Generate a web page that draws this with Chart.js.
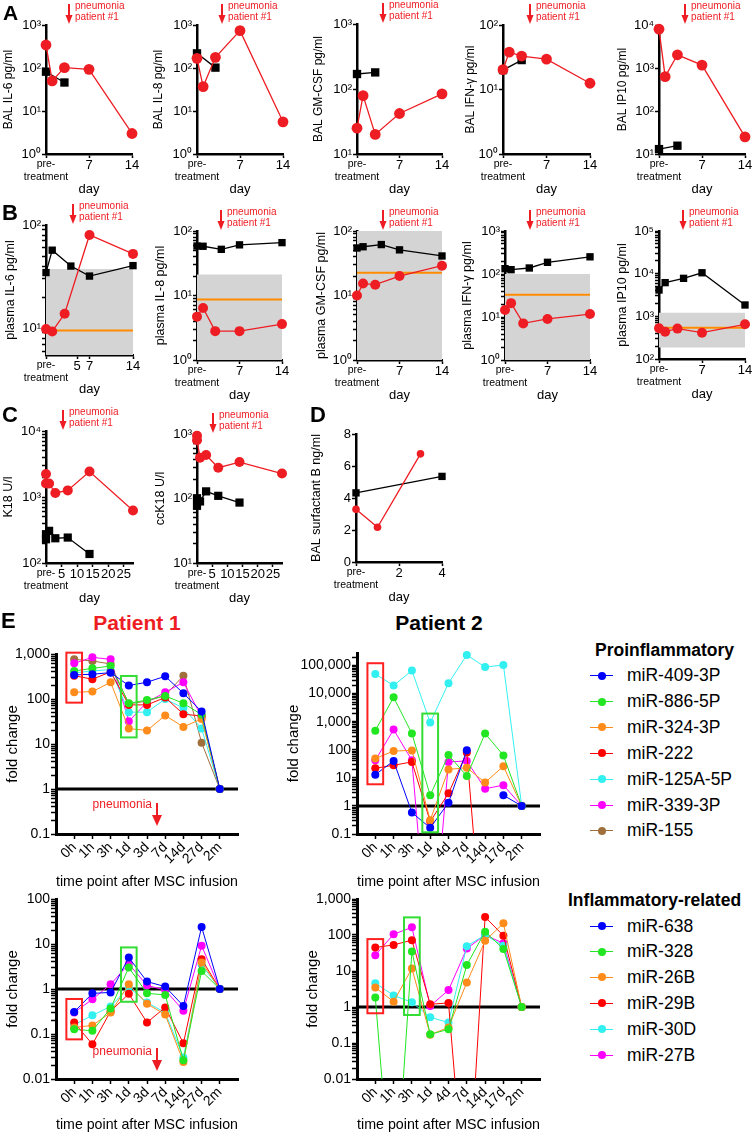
<!DOCTYPE html>
<html>
<head>
<meta charset="utf-8">
<script src="https://cdn.jsdelivr.net/npm/chart.js@4.4.1/dist/chart.umd.min.js"></script>
<style>
  body { margin: 0; width: 753px; height: 1136px; position: relative; overflow: hidden; background: #fff;
         font-family: "Liberation Sans", Arial, Helvetica, sans-serif; }
  canvas { position: absolute; }
  .lbl { position: absolute; line-height: 1; white-space: nowrap; color: #000; }
  .mk { position: absolute; }
</style>
</head>
<body>
<script>
// ---------- A: BAL cytokines (red = patient #1, black = patient #2) ----------
const balDaysRed = [0, 1, 3, 7, 14];
const balDaysBlack = [0, 3];
const balIL6Red = [343, 50, 102, 93, 3.0];
const balIL6Black = [82, 46];
const balIL8Red = [168, 37, 177, 738, 5.6];
const balIL8Black = [219, 102];
const balGMCSFRed = [25, 79, 20, 42, 84];
const balGMCSFBlack = [170, 180];
const balIFNgRed = [20.3, 38, 33, 29.6, 12.5];
const balIFNgBlack = [20, 28.6];
const balIP10Red = [8000, 630, 2030, 1170, 25];
const balIP10Black = [13, 15.6];

// ---------- B: plasma cytokines ----------
const plasmaDaysRed = [0, 1, 3, 7, 14];
const plasmaDaysBlack = [0, 1, 4, 7, 14];
const plasmaIL6Red = [9.8, 9.3, 13.8, 80, 52.5];
const plasmaIL6Black = [34.6, 57, 40, 32, 40.4];
const plasmaIL8Red = [4.7, 6.4, 2.8, 2.8, 3.6];
const plasmaIL8Black = [58.5, 58, 52, 61, 66];
const plasmaGMCSFRed = [10, 15.3, 14.7, 20, 29];
const plasmaGMCSFBlack = [54.5, 57, 61.6, 51, 41];
const plasmaIFNgRed = [14.6, 21, 7.1, 9, 11.7];
const plasmaIFNgBlack = [133, 126, 138, 187, 251];
const plasmaIP10Red = [525, 437, 516, 414, 650];
const plasmaIP10Black = [4140, 6160, 7770, 10500, 1845];
// healthy range (grey) and median (orange): IL-6, IL-8, GM-CSF, IFN-g, IP10
const normalHigh = [37.5, 21.2, 100, 100, 1220];
const normalLow = [null, null, null, null, 185];
const normalMedian = [9.5, 8.7, 22.5, 33, 542];

// ---------- C: K18 / ccK18, D: surfactant B ----------
const k18DaysRed = [0, 0, 1, 3, 7, 14, 28];
const k18DaysBlack = [0, 0, 1, 3, 7, 14];
const k18Red = [2230, 1600, 1600, 1150, 1260, 2430, 623];
const k18Black = [229, 273, 307, 237, 243, 137];
const ccK18Red = [940, 800, 430, 473, 300, 367, 244];
const ccK18Black = [101, 77, 90, 129, 110, 86.5];
const spbDaysRed = [0, 1, 3];
const spbRed = [3.29, 2.17, 6.76];
const spbDaysBlack = [0, 4];
const spbBlack = [4.32, 5.35];

// ---------- E: miRNA fold change ----------
const timeP1 = ['0h', '1h', '3h', '1d', '3d', '7d', '14d', '27d', '2m'];
const timeP2 = ['0h', '1h', '3h', '1d', '4d', '7d', '14d', '17d', '2m'];
const proNames = ['miR-409-3P', 'miR-886-5P', 'miR-324-3P', 'miR-222', 'miR-125A-5P', 'miR-339-3P', 'miR-155'];
const relNames = ['miR-638', 'miR-328', 'miR-26B', 'miR-29B', 'miR-30D', 'miR-27B'];

const p1_409 = [342, 355, 385, 199, 236, 320, 134, 53, 1];
const p1_886 = [420, 480, 540, 80, 95, 117, 80, 45, 1];
const p1_324 = [141, 146, 235, 22, 20, 43, 24, 36, 1];
const p1_222 = [330, 275, 400, 74, 74, 108, 46, 42, 1];
const p1_125a = [380, 420, 450, 51, 51, 100, 63, 22, 1];
const p1_339 = [620, 843, 760, 32, 85, 141, 236, 40, 1];
const p1_155 = [760, 700, 600, 78, 90, 120, 330, 10.7, 1];

const p2_409 = [13, 40, 0.58, 0.166, 1.3, 97, null, 2.4, 1];
const p2_886 = [480, 7400, 380, 2.4, 65, 11.6, 380, 63, 1];
const p2_324 = [49, 90, 95, 0.31, 20, 23, 6.8, 26, 1];
const p2_222 = [22, 28, 37, 0.28, 2.8, 80, 1e-6, null, 1];
const p2_125a = [50000, 19500, 66000, 930, 23600, 240000, 88000, 105000, 1];
const p2_339 = [42, 525, 42, 1e-6, 37, 40, 4.1, 5.5, 1];
const p2_155 = [null, null, null, null, null, null, null, null, null];

const p1_638 = [0.31, 0.80, 0.84, 5.0, 1.46, 1.13, 0.42, 24, 1];
const p1_328 = [0.127, 0.118, 0.37, 3.0, 0.80, 0.74, 0.026, 2.5, 1];
const p1_26b = [0.14, 0.155, 0.30, 1.27, 0.47, 0.27, 0.024, 3.9, 1];
const p1_29b = [0.18, 0.059, 0.32, 0.78, 0.18, 0.39, 0.062, 4.6, 1];
const p1_30d = [0.16, 0.26, 0.41, 1.1, 0.5, 0.3, 0.03, 3.5, 1];
const p1_27b = [0.30, 0.59, 1.27, 3.6, 1.2, 0.95, 0.33, 9.2, 1];

const p2_638 = [null, null, null, null, null, null, null, null, null];
const p2_328 = [1.85, 1e-6, 35, 0.174, 0.24, 14.7, 124, 41, 1];
const p2_26b = [3.5, 1.4, 11.8, 0.17, 0.27, 4.8, 69, 211, 1];
const p2_29b = [45, 53, 72, 1.19, 1.3, 1e-6, 316, 96, 1];
const p2_30d = [4.6, 2.1, 1.35, 0.52, 0.37, 49, 100, 50, 1];
const p2_27b = [27.6, 105, 163, 1.07, 2.95, 42, 100, 59, 1];

// ---------- tick values ----------
const ticks1to1e3 = [1, 10, 100, 1000];
const ticks10to1e3 = [10, 100, 1000];
const ticks1to1e2 = [1, 10, 100];
const ticks10to1e4 = [10, 100, 1000, 10000];
const ticks10to1e2 = [10, 100];
const ticks1e2to1e5 = [100, 1000, 10000, 100000];
const ticks1e2to1e4 = [100, 1000, 10000];
const ticksSPB = [0, 2, 4, 6, 8];
const dayTicks = [0, 7, 14];
const dayTicksIL6 = [0, 5, 7, 14];
const dayTicksK18 = [0, 5, 10, 15, 20, 25];
const dayTicksSPB = [0, 2, 4];
const yTicksE1 = [0.1, 1, 10, 100, 1000];
const yTicksE2 = [0.1, 1, 10, 100, 1000, 10000, 100000];
const yTicksE3 = [0.01, 0.1, 1, 10, 100];
const yTicksE4 = [0.01, 0.1, 1, 10, 100, 1000];

// ---------- styling ----------
const RED = '#ee1d23';
const ORANGE = '#ff8c00';
const GRAY = '#d4d4d4';
const FONT = '"Liberation Sans", Arial, Helvetica, sans-serif';
const proColors = ['#0000ff', '#22e622', '#ff8c1a', '#ff0000', '#33f0f0', '#ff00ff', '#a0703c'];
const relColors = ['#0000ff', '#22e622', '#ff8c1a', '#ff0000', '#33f0f0', '#ff00ff'];

Chart.defaults.font.family = FONT;
Chart.defaults.color = '#000';

const SUP = { '0': '⁰', '1': '¹', '2': '²', '3': '³', '4': '⁴', '5': '⁵', '6': '⁶', '7': '⁷', '8': '⁸', '9': '⁹', '-': '⁻' };
const pow10 = v => '10' + String(Math.round(Math.log10(v))).split('').map(c => SUP[c]).join('');
const xy = (xs, ys) => xs.map((x, i) => ({ x: x, y: ys[i] }));

function logTickValues(min, max, majors, minor) {
  const out = majors.filter(v => v >= min && v <= max);
  if (minor) {
    const lo = Math.floor(Math.log10(min)), hi = Math.ceil(Math.log10(max));
    for (let e = lo; e <= hi; e++) {
      for (let k = 2; k <= 9; k++) {
        const v = k * Math.pow(10, e);
        if (v >= min && v <= max) out.push(v);
      }
    }
  }
  return out.sort((a, b) => a - b);
}

function axisStyle(len, bw) {
  return {
    border: { display: true, color: '#000', width: bw },
    grid: { display: true, drawOnChartArea: false, drawTicks: true, tickLength: len, tickWidth: 1.5, tickColor: '#000' }
  };
}

// pneumonia arrow
const arrowPlugin = {
  id: 'pneumo',
  afterDraw(chart, args, o) {
    if (o.day === undefined) return;
    const ctx = chart.ctx, area = chart.chartArea;
    const x = Math.round(chart.scales.x.getPixelForValue(o.day));
    ctx.save();
    ctx.fillStyle = RED;
    ctx.strokeStyle = RED;
    ctx.lineWidth = 2;
    ctx.textBaseline = 'middle';
    if (o.below) {
      const b = area.bottom;
      ctx.beginPath(); ctx.moveTo(x, b - 31); ctx.lineTo(x, b - 18); ctx.stroke();
      ctx.beginPath(); ctx.moveTo(x - 5, b - 19); ctx.lineTo(x + 5, b - 19); ctx.lineTo(x, b - 8); ctx.closePath(); ctx.fill();
      ctx.font = '12px ' + FONT;
      ctx.textAlign = 'right';
      ctx.fillText('pneumonia', x - 5, b - o.textDy);
    } else {
      const t = area.top;
      ctx.beginPath(); ctx.moveTo(x, t - 21); ctx.lineTo(x, t - 9); ctx.stroke();
      ctx.beginPath(); ctx.moveTo(x - 3.5, t - 10); ctx.lineTo(x + 3.5, t - 10); ctx.lineTo(x, t - 1); ctx.closePath(); ctx.fill();
      ctx.font = '10px ' + FONT;
      ctx.textAlign = 'left';
      ctx.fillText('pneumonia', x + 6, t - 19);
      ctx.fillText('patient #1', x + 6, t - 8);
    }
    ctx.restore();
  }
};

// highlight rectangles in panel E
const boxPlugin = {
  id: 'boxes',
  afterDatasetsDraw(chart, args, o) {
    if (!o.list) return;
    const ctx = chart.ctx, sx = chart.scales.x, sy = chart.scales.y;
    ctx.save();
    ctx.lineWidth = 2;
    o.list.forEach(b => {
      ctx.strokeStyle = b.color;
      const x0 = sx.getPixelForValue(b.x - 0.43), x1 = sx.getPixelForValue(b.x + 0.43);
      const y0 = sy.getPixelForValue(b.top), y1 = sy.getPixelForValue(b.bottom);
      ctx.strokeRect(x0, y0, x1 - x0, y1 - y0);
    });
    ctx.restore();
  }
};
Chart.register(arrowPlugin, boxPlugin);

function makeChart(box, cfg) {
  const c = document.createElement('canvas');
  const w = box.R - box.L + box.yw + box.pr;
  const h = box.B - box.T + box.pt + box.xh;
  c.width = w;
  c.height = h;
  c.style.left = (box.L - box.yw) + 'px';
  c.style.top = (box.T - box.pt) + 'px';
  c.style.width = w + 'px';
  c.style.height = h + 'px';
  document.body.appendChild(c);
  const o = cfg.options;
  o.layout = { padding: { top: box.pt, right: box.pr, left: 0, bottom: 0 } };
  o.scales.x.afterFit = s => { s.height = box.xh; };
  o.scales.y.afterFit = s => { s.width = box.yw; };
  o.responsive = false;
  o.animation = false;
  o.devicePixelRatio = 1;
  o.plugins = Object.assign({ legend: { display: false }, tooltip: { enabled: false } }, o.plugins || {});
  return new Chart(c, cfg);
}

// A-D panels
function cytoPanel(box, p) {
  const sets = [
    { data: xy(p.redX, p.red), borderColor: RED, backgroundColor: RED, borderWidth: 1.3,
      pointRadius: p.r, pointBorderWidth: 0, clip: false },
    { data: xy(p.blackX, p.black), borderColor: '#000', backgroundColor: '#000', borderWidth: 1.3,
      pointStyle: 'rect', pointRadius: p.s, pointBorderWidth: 0, clip: false }
  ];
  if (p.median !== undefined) {
    sets.push({ data: xy([0, p.xmax], [p.median, p.median]), borderColor: ORANGE, borderWidth: 2, pointRadius: 0, clip: false });
  }
  if (p.high !== undefined) {
    sets.push({ data: xy([0, p.xmax], [p.high, p.high]), borderColor: 'rgba(0,0,0,0)', backgroundColor: GRAY,
      pointRadius: 0, fill: p.low ? '+1' : 'start' });
    if (p.low) sets.push({ data: xy([0, p.xmax], [p.low, p.low]), borderColor: 'rgba(0,0,0,0)', pointRadius: 0, fill: false });
  }
  const majors = new Set(p.yTicks);
  const ymin = p.ymin !== undefined ? p.ymin : p.yTicks[0];
  const ymax = p.yTicks[p.yTicks.length - 1];
  return makeChart(box, {
    type: 'line',
    data: { datasets: sets },
    options: {
      scales: {
        x: Object.assign({
          type: 'linear', min: 0, max: p.xmax,
          afterBuildTicks: s => { s.ticks = p.xTicks.map(v => ({ value: v })); },
          ticks: {
            autoSkip: false, maxRotation: 0, minRotation: 0, padding: 0,
            callback: v => v === 0 ? ['pre-', 'treatment'] : String(v),
            font: ctx => ({ size: ctx.tick && ctx.tick.value === 0 ? 10.5 : 13 })
          },
          title: { display: true, text: 'day', font: { size: 13 }, padding: 0 }
        }, axisStyle(4, 2.5)),
        y: Object.assign({
          type: p.linear ? 'linear' : 'logarithmic', min: ymin, max: ymax,
          afterBuildTicks: s => {
            const vals = p.linear ? p.yTicks : logTickValues(ymin, ymax, p.yTicks, p.minor);
            s.ticks = vals.map(v => ({ value: v }));
          },
          ticks: {
            autoSkip: false, padding: 1, font: { size: 13 },
            callback: v => majors.has(v) ? (p.linear ? String(v) : pow10(v)) : ''
          },
          title: { display: true, text: p.title, font: { size: p.ts }, padding: 0 }
        }, axisStyle(4, 2.5))
      },
      plugins: { pneumo: p.arrow !== undefined ? { day: p.arrow } : {} }
    }
  });
}

// E panels
function mirPanel(box, p) {
  const sets = p.series.map((vals, i) => ({
    data: vals.map((v, j) => ({ x: j + 1, y: v })),
    borderColor: p.colors[i], backgroundColor: p.colors[i], borderWidth: 1,
    pointRadius: 4, pointBorderWidth: 0, clip: { left: 6, right: 6, top: 6, bottom: 0 }
  }));
  sets.push({ data: xy([0, 10], [1, 1]), borderColor: '#000', borderWidth: 3, pointRadius: 0, clip: false });
  const majors = new Set(p.yTicks);
  return makeChart(box, {
    type: 'line',
    data: { datasets: sets },
    options: {
      scales: {
        x: Object.assign({
          type: 'linear', min: 0, max: 10,
          afterBuildTicks: s => { s.ticks = p.labels.map((l, i) => ({ value: i + 1 })); },
          ticks: { autoSkip: false, minRotation: 45, maxRotation: 45, padding: 0, font: { size: 14 },
            callback: v => p.labels[v - 1] },
          title: { display: true, text: 'time point after MSC infusion', font: { size: 14.5 }, padding: 0 }
        }, axisStyle(5, 3)),
        y: Object.assign({
          type: 'logarithmic', min: p.ymin, max: p.ymax,
          afterBuildTicks: s => { s.ticks = logTickValues(p.ymin, p.ymax, p.yTicks, true).map(v => ({ value: v })); },
          ticks: { autoSkip: false, padding: 1, font: { size: 14 },
            callback: v => majors.has(v) ? v.toLocaleString('en-US') : '' },
          title: { display: true, text: 'fold change', font: { size: 15 }, padding: 0 }
        }, axisStyle(5, 3))
      },
      plugins: {
        pneumo: p.arrow ? { day: 5.55, below: true, textDy: p.arrow } : {},
        boxes: { list: p.boxes }
      }
    }
  });
}

// ---------- row A ----------
const rowA = { T: 25, B: 154, pt: 28, pr: 10, xh: 43 };
cytoPanel(Object.assign({}, rowA, { L: 46, R: 132, yw: 45 }), { title: 'BAL IL-6 pg/ml', ts: 12,
  redX: balDaysRed, red: balIL6Red, blackX: balDaysBlack, black: balIL6Black, r: 5.4, s: 5.9,
  yTicks: ticks1to1e3, xmax: 14, xTicks: dayTicks, arrow: 3.8 });
cytoPanel(Object.assign({}, rowA, { L: 197, R: 283, yw: 46 }), { title: 'BAL IL-8 pg/ml', ts: 12,
  redX: balDaysRed, red: balIL8Red, blackX: balDaysBlack, black: balIL8Black, r: 5.4, s: 5.9,
  yTicks: ticks1to1e3, xmax: 14, xTicks: dayTicks, arrow: 4.0 });
cytoPanel(Object.assign({}, rowA, { L: 357, R: 442, T: 24, yw: 46 }), { title: 'BAL GM-CSF pg/ml', ts: 12,
  redX: balDaysRed, red: balGMCSFRed, blackX: balDaysBlack, black: balGMCSFBlack, r: 5.4, s: 5.9,
  yTicks: ticks10to1e3, xmax: 14, xTicks: dayTicks, arrow: 4.3 });
cytoPanel(Object.assign({}, rowA, { L: 503, R: 590, yw: 40 }), { title: 'BAL IFN-γ pg/ml', ts: 12,
  redX: balDaysRed, red: balIFNgRed, blackX: balDaysBlack, black: balIFNgBlack, r: 5.4, s: 5.9,
  yTicks: ticks1to1e2, xmax: 14, xTicks: dayTicks, arrow: 4.35 });
cytoPanel(Object.assign({}, rowA, { L: 659, R: 745, yw: 44, pr: 8 }), { title: 'BAL IP10 pg/ml', ts: 12,
  redX: balDaysRed, red: balIP10Red, blackX: balDaysBlack, black: balIP10Black, r: 5.4, s: 5.9,
  yTicks: ticks10to1e4, xmax: 14, xTicks: dayTicks, arrow: 4.3 });

// ---------- row B ----------
const rowB = { T: 231, B: 360, pt: 28, pr: 10, xh: 43 };
cytoPanel(Object.assign({}, rowB, { L: 46, R: 133, T: 225, B: 355, yw: 43, xh: 42 }), { title: 'plasma IL-6 pg/ml', ts: 12.5,
  redX: plasmaDaysRed, red: plasmaIL6Red, blackX: plasmaDaysBlack, black: plasmaIL6Black, r: 5, s: 5.2,
  yTicks: ticks10to1e2, ymin: 5.5, minor: true, xmax: 14, xTicks: dayTicksIL6, arrow: 4.3,
  high: normalHigh[0], median: normalMedian[0] });
cytoPanel(Object.assign({}, rowB, { L: 197, R: 282, yw: 44 }), { title: 'plasma IL-8 pg/ml', ts: 12.5,
  redX: plasmaDaysRed, red: plasmaIL8Red, blackX: plasmaDaysBlack, black: plasmaIL8Black, r: 5, s: 5.2,
  yTicks: ticks1to1e2, minor: true, xmax: 14, xTicks: dayTicks, arrow: 3.9,
  high: normalHigh[1], median: normalMedian[1] });
cytoPanel(Object.assign({}, rowB, { L: 357, R: 442, yw: 43 }), { title: 'plasma GM-CSF pg/ml', ts: 12.5,
  redX: plasmaDaysRed, red: plasmaGMCSFRed, blackX: plasmaDaysBlack, black: plasmaGMCSFBlack, r: 5, s: 5.2,
  yTicks: ticks1to1e2, minor: true, xmax: 14, xTicks: dayTicks, arrow: 4.3,
  high: normalHigh[2], median: normalMedian[2] });
cytoPanel(Object.assign({}, rowB, { L: 505, R: 590, yw: 45 }), { title: 'plasma IFN-γ pg/ml', ts: 12.5,
  redX: plasmaDaysRed, red: plasmaIFNgRed, blackX: plasmaDaysBlack, black: plasmaIFNgBlack, r: 5, s: 5.2,
  yTicks: ticks1to1e3, minor: true, xmax: 14, xTicks: dayTicks, arrow: 4.1,
  high: normalHigh[3], median: normalMedian[3] });
cytoPanel(Object.assign({}, rowB, { L: 659, R: 745, B: 359, yw: 44, pr: 8 }), { title: 'plasma IP10 pg/ml', ts: 12.5,
  redX: plasmaDaysRed, red: plasmaIP10Red, blackX: plasmaDaysBlack, black: plasmaIP10Black, r: 5, s: 5.2,
  yTicks: ticks1e2to1e5, minor: true, xmax: 14, xTicks: dayTicks, arrow: 3.9,
  high: normalHigh[4], low: normalLow[4], median: normalMedian[4] });

// ---------- rows C / D ----------
const rowC = { T: 434, B: 563, pt: 28, pr: 10, xh: 43 };
cytoPanel(Object.assign({}, rowC, { L: 46, R: 133, T: 431, yw: 45 }), { title: 'K18 U/l', ts: 12.5,
  redX: k18DaysRed, red: k18Red, blackX: k18DaysBlack, black: k18Black, r: 5, s: 5.8,
  yTicks: ticks1e2to1e4, minor: true, xmax: 28, xTicks: dayTicksK18, arrow: 5.4 });
cytoPanel(Object.assign({}, rowC, { L: 197, R: 282, yw: 44 }), { title: 'ccK18 U/l', ts: 12.5,
  redX: k18DaysRed, red: ccK18Red, blackX: k18DaysBlack, black: ccK18Black, r: 5, s: 5.8,
  yTicks: ticks10to1e3, minor: true, xmax: 28, xTicks: dayTicksK18, arrow: 5.3 });
cytoPanel(Object.assign({}, rowC, { L: 356, R: 442, B: 562, yw: 47 }), { title: 'BAL surfactant B ng/ml', ts: 12.5,
  redX: spbDaysRed, red: spbRed, blackX: spbDaysBlack, black: spbBlack, r: 3.8, s: 5.2,
  linear: true, yTicks: ticksSPB, xmax: 4, xTicks: dayTicksSPB });

// ---------- row E ----------
mirPanel({ L: 56, R: 238, T: 654, B: 834, yw: 52, xh: 57, pt: 10, pr: 10 }, {
  series: [p1_409, p1_886, p1_324, p1_222, p1_125a, p1_339, p1_155], colors: proColors, labels: timeP1,
  yTicks: yTicksE1, ymin: 0.1, ymax: 1000, arrow: 29,
  boxes: [{ x: 1, top: 1070, bottom: 83, color: '#ff2020' }, { x: 4, top: 325, bottom: 14, color: '#33dd33' }] });
mirPanel({ L: 357, R: 540, T: 653, B: 834, yw: 72, xh: 57, pt: 10, pr: 10 }, {
  series: [p2_409, p2_886, p2_324, p2_222, p2_125a, p2_339, p2_155], colors: proColors, labels: timeP2,
  yTicks: yTicksE2, ymin: 0.1, ymax: 280000,
  boxes: [{ x: 1, top: 121000, bottom: 5.9, color: '#ff2020' }, { x: 4, top: 1950, bottom: 0.115, color: '#33dd33' }] });
mirPanel({ L: 56, R: 238, T: 899, B: 1079, yw: 52, xh: 55, pt: 10, pr: 10 }, {
  series: [p1_638, p1_328, p1_26b, p1_29b, p1_30d, p1_27b], colors: relColors, labels: timeP1,
  yTicks: yTicksE3, ymin: 0.01, ymax: 100, arrow: 27,
  boxes: [{ x: 1, top: 0.6, bottom: 0.076, color: '#ff2020' }, { x: 4, top: 8.4, bottom: 0.52, color: '#33dd33' }] });
mirPanel({ L: 357, R: 540, T: 899, B: 1079, yw: 53, xh: 55, pt: 10, pr: 10 }, {
  series: [p2_638, p2_328, p2_26b, p2_29b, p2_30d, p2_27b], colors: relColors, labels: timeP2,
  yTicks: yTicksE4, ymin: 0.01, ymax: 1000,
  boxes: [{ x: 1, top: 77, bottom: 0.67, color: '#ff2020' }, { x: 3, top: 309, bottom: 0.6, color: '#33dd33' }] });

// ---------- html text ----------
function label(txt, x, y, size, opt) {
  const d = document.createElement('div');
  d.className = 'lbl';
  d.textContent = txt;
  d.style.left = x + 'px';
  d.style.top = y + 'px';
  d.style.fontSize = size + 'px';
  if (opt && opt.bold) d.style.fontWeight = 'bold';
  if (opt && opt.color) d.style.color = opt.color;
  if (opt && opt.center) d.style.transform = 'translateX(-50%)';
  document.body.appendChild(d);
}

label('A', 3, 2, 21, { bold: true });
label('B', 2, 202, 22, { bold: true });
label('C', 2, 404, 22, { bold: true });
label('D', 310, 404, 22, { bold: true });
label('E', 1, 610, 22, { bold: true });
label('Patient 1', 137, 612, 21, { bold: true, color: RED, center: true });
label('Patient 2', 439, 612, 21, { bold: true, center: true });

function legendRow(name, color, cy) {
  const line = document.createElement('div');
  line.className = 'mk';
  Object.assign(line.style, { left: '590px', top: (cy - 0.5) + 'px', width: '23px', height: '1px', background: color });
  document.body.appendChild(line);
  const dot = document.createElement('div');
  dot.className = 'mk';
  Object.assign(dot.style, { left: '598px', top: (cy - 4) + 'px', width: '8px', height: '8px', borderRadius: '50%', background: color });
  document.body.appendChild(dot);
  label(name, 627, cy - 8.5, 17.5);
}

label('Proinflammatory', 595, 642, 17.5, { bold: true });
const proY = [675.7, 701.7, 727.3, 753.3, 779, 805, 830.7];
proNames.forEach((n, i) => legendRow(n, proColors[i], proY[i]));
label('Inflammatory-related', 568, 892, 17.5, { bold: true });
const relY = [926, 951.7, 977.3, 1003.3, 1029, 1055];
relNames.forEach((n, i) => legendRow(n, relColors[i], relY[i]));
</script>
</body>
</html>
